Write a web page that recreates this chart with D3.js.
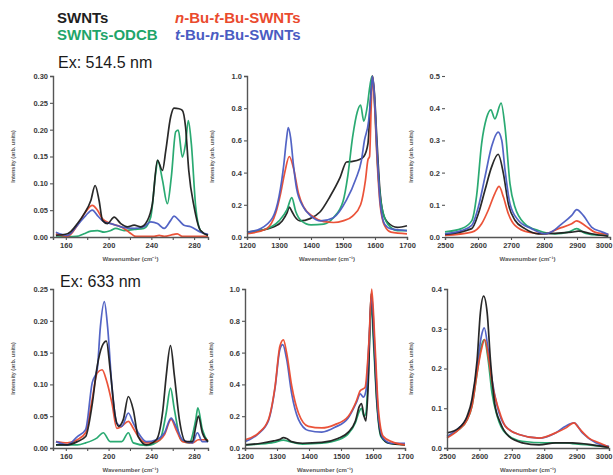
<!DOCTYPE html>
<html><head><meta charset="utf-8">
<script src="https://cdn.jsdelivr.net/npm/d3@7"></script>
<style>
body{margin:0;background:#fff;}
svg{display:block;font-family:"Liberation Sans",Arial,sans-serif;}
</style>
</head><body><svg id="c" width="613" height="475"></svg>
<script>
// ---------- series ----------
const seriesNames = ["SWNTs", "SWNTs-ODCB", "n-Bu-t-Bu-SWNTs", "t-Bu-n-Bu-SWNTs"];
const excitations = ["Ex: 514.5 nm", "Ex: 633 nm"];
const xTitle = "Wavenumber (cm\u207B\u00B9)";
const yTitle = "Intensity (arb. units)";

// ---------- 514.5 nm, RBM ----------
const rbm514_SWNTs = [[150.7,0.003],[161.6,0.006],[170.9,0.025],[177.1,0.043],[183.4,0.068],[187.4,0.096],[191.1,0.068],[194.3,0.031],[199,0.025],[205.2,0.037],[211.4,0.025],[217.7,0.019],[223.9,0.022],[230.1,0.019],[236.4,0.031],[241,0.062],[245.7,0.143],[250.4,0.124],[253.5,0.161],[258.1,0.224],[261.2,0.24],[265.9,0.239],[269,0.236],[272,0.205],[275,0.124],[280,0.056],[286,0.012],[293,0.003]];
const rbm514_ODCB = [[150.7,0],[170,0.001],[177,0.006],[183.4,0.011],[189.6,0.012],[195.8,0.009],[202,0.012],[206.7,0.016],[214.5,0.012],[224,0.014],[233,0.016],[239.4,0.037],[244,0.118],[246,0.143],[250.4,0.106],[255,0.062],[258.7,0.112],[262.8,0.196],[265.2,0.199],[269,0.149],[272,0.174],[274.6,0.217],[277.4,0.174],[281.5,0.056],[286,0.012],[293,0.003]];
const rbm514_nBu = [[150.7,0.006],[161.6,0.001],[170.9,0.022],[178.6,0.047],[184.8,0.059],[189.6,0.05],[194.3,0.034],[202,0.025],[211.4,0.019],[219.2,0.009],[225.4,0.001],[242.6,0.001],[247.3,0.003],[252,0.001],[261.2,0.005],[264.3,0.006],[269,0.001],[293,0.001]];
const rbm514_tBu = [[150.7,0.009],[161.6,0.003],[170.9,0.022],[178.6,0.04],[184.8,0.05],[189.6,0.04],[195.8,0.028],[202,0.025],[211.4,0.019],[224,0.016],[233,0.019],[239.4,0.028],[245.7,0.025],[252,0.016],[258.1,0.031],[261.2,0.039],[265.9,0.031],[270.5,0.022],[276.8,0.019],[286,0.009],[293,0.005]];

// ---------- 514.5 nm, D/G ----------
const g514_SWNTs = [[1200,0.03],[1240,0.04],[1280,0.06],[1310,0.1],[1325,0.15],[1332,0.185],[1340,0.16],[1350,0.125],[1366,0.1],[1397,0.114],[1428,0.155],[1459,0.25],[1491,0.37],[1511,0.466],[1530,0.47],[1550,0.48],[1565,0.5],[1578,0.58],[1586,0.85],[1592,1.0],[1598,0.9],[1606,0.6],[1615,0.3],[1625,0.15],[1640,0.09],[1670,0.06],[1700,0.07]];
const g514_ODCB = [[1200,0.03],[1260,0.05],[1300,0.1],[1325,0.17],[1340,0.245],[1352,0.16],[1370,0.1],[1400,0.075],[1440,0.08],[1470,0.12],[1500,0.22],[1515,0.38],[1530,0.62],[1545,0.78],[1555,0.82],[1565,0.72],[1575,0.8],[1585,0.95],[1591,1.0],[1598,0.85],[1608,0.45],[1620,0.2],[1640,0.08],[1670,0.04],[1700,0.04]];
const g514_nBu = [[1200,0.02],[1260,0.05],[1290,0.15],[1305,0.27],[1319,0.41],[1332,0.5],[1345,0.43],[1361,0.27],[1376,0.19],[1408,0.125],[1440,0.095],[1470,0.09],[1500,0.1],[1530,0.13],[1555,0.2],[1570,0.35],[1578,0.48],[1583,0.5],[1588,0.8],[1592,1.0],[1598,0.85],[1606,0.5],[1616,0.2],[1630,0.07],[1650,0.03],[1700,0.02]];
const g514_tBu = [[1200,0.03],[1240,0.05],[1280,0.12],[1300,0.25],[1315,0.45],[1323,0.6],[1329,0.68],[1336,0.62],[1345,0.45],[1355,0.3],[1375,0.19],[1400,0.13],[1430,0.1],[1470,0.12],[1511,0.23],[1540,0.36],[1557,0.47],[1567,0.6],[1580,0.72],[1588,0.9],[1592,1.0],[1598,0.88],[1606,0.55],[1616,0.22],[1630,0.08],[1650,0.05],[1700,0.04]];

// ---------- 514.5 nm, 2D ----------
const d514_SWNTs = [[2500,0.008],[2581,0.026],[2601,0.072],[2621,0.145],[2641,0.217],[2661,0.257],[2677,0.197],[2692,0.103],[2712,0.052],[2742,0.026],[2783,0.01],[2884,0.015],[2904,0.018],[2944,0.01],[2995,0.002]];
const d514_ODCB = [[2500,0.016],[2550,0.026],[2581,0.05],[2596,0.13],[2611,0.29],[2626,0.37],[2639,0.395],[2651,0.367],[2670,0.416],[2682,0.34],[2697,0.165],[2712,0.093],[2742,0.041],[2783,0.02],[2833,0.01],[2874,0.015],[2899,0.026],[2924,0.012],[2965,0.006],[2995,0.006]];
const d514_nBu = [[2500,0.005],[2581,0.015],[2611,0.041],[2631,0.083],[2651,0.135],[2664,0.157],[2677,0.124],[2692,0.072],[2712,0.036],[2753,0.015],[2803,0.01],[2844,0.026],[2884,0.041],[2899,0.05],[2924,0.036],[2954,0.015],[2995,0.008]];
const d514_tBu = [[2500,0.01],[2550,0.02],[2581,0.036],[2601,0.093],[2621,0.186],[2641,0.28],[2661,0.326],[2672,0.3],[2682,0.207],[2697,0.103],[2722,0.052],[2762,0.026],[2803,0.01],[2823,0.016],[2854,0.041],[2884,0.067],[2899,0.085],[2919,0.067],[2944,0.031],[2975,0.016],[2995,0.008]];

// ---------- 633 nm, RBM ----------
const rbm633_SWNTs = [[150.8,0.005],[161.5,0.005],[170.8,0.01],[178.5,0.018],[184.6,0.068],[189.3,0.128],[193.9,0.16],[197.9,0.168],[201.5,0.123],[206.2,0.05],[209.2,0.034],[213.8,0.045],[218.5,0.081],[223.1,0.06],[227.7,0.018],[235.4,0.005],[244.7,0.013],[250.8,0.06],[253.9,0.113],[257.9,0.161],[261.6,0.113],[266.2,0.045],[272.3,0.01],[278.5,0.01],[281.6,0.034],[284,0.05],[287.7,0.024],[293,0.01]];
const rbm633_ODCB = [[150.8,0.005],[161.5,0.005],[170.8,0.005],[178.5,0.008],[189.3,0.016],[195,0.024],[201.5,0.01],[212.3,0.01],[218.5,0.024],[223.1,0.008],[235.4,0.004],[248,0.013],[253.9,0.055],[257.9,0.094],[261.6,0.06],[267.7,0.013],[275.4,0.008],[281.6,0.045],[283.5,0.063],[287.7,0.029],[293,0.01]];
const rbm633_nBu = [[150.8,0.01],[161.5,0.008],[170.8,0.013],[178.5,0.024],[184.6,0.076],[189.3,0.118],[193.9,0.123],[197.9,0.107],[203.1,0.071],[207.7,0.031],[212.3,0.034],[218.5,0.042],[223.1,0.031],[227.7,0.018],[235.4,0.008],[244.7,0.01],[252.3,0.021],[258.5,0.045],[263.1,0.029],[269.2,0.01],[278.5,0.008],[284,0.013],[293,0.013]];
const rbm633_tBu = [[150.8,0.01],[161.5,0.005],[170.8,0.018],[178.5,0.029],[184.6,0.102],[189.3,0.123],[192.3,0.19],[196,0.23],[199.1,0.19],[203.1,0.097],[207.7,0.039],[212.3,0.034],[218.5,0.055],[223.1,0.039],[227.7,0.024],[235.4,0.01],[244.7,0.013],[252.3,0.024],[258.5,0.047],[263.1,0.034],[269.2,0.013],[278.5,0.008],[283.1,0.024],[287.7,0.01],[293,0.01]];

// ---------- 633 nm, D/G ----------
const g633_SWNTs = [[1200,0.02],[1250,0.03],[1290,0.045],[1310,0.055],[1320,0.065],[1330,0.06],[1345,0.04],[1380,0.03],[1440,0.035],[1490,0.06],[1523,0.1],[1545,0.17],[1557,0.26],[1564,0.28],[1572,0.2],[1578,0.17],[1586,0.45],[1594,0.97],[1602,0.7],[1612,0.3],[1625,0.08],[1650,0.03],[1700,0.02]];
const g633_ODCB = [[1200,0.02],[1250,0.025],[1290,0.035],[1320,0.05],[1340,0.04],[1380,0.025],[1440,0.03],[1490,0.05],[1523,0.09],[1545,0.16],[1557,0.23],[1564,0.25],[1572,0.2],[1578,0.22],[1586,0.5],[1594,0.9],[1602,0.65],[1612,0.28],[1625,0.07],[1650,0.03],[1700,0.02]];
const g633_nBu = [[1200,0.052],[1242,0.094],[1273,0.178],[1294,0.388],[1309,0.64],[1320,0.68],[1330,0.6],[1346,0.39],[1367,0.22],[1398,0.136],[1440,0.126],[1481,0.147],[1523,0.2],[1549,0.3],[1560,0.36],[1567,0.37],[1575,0.38],[1587,0.66],[1596,1.0],[1606,0.66],[1617,0.24],[1632,0.073],[1658,0.04],[1700,0.02]];
const g633_tBu = [[1200,0.04],[1242,0.09],[1273,0.17],[1294,0.38],[1309,0.62],[1318,0.65],[1330,0.56],[1346,0.34],[1367,0.18],[1398,0.11],[1440,0.1],[1481,0.13],[1523,0.19],[1549,0.29],[1560,0.34],[1570,0.32],[1578,0.36],[1587,0.65],[1596,0.96],[1606,0.6],[1617,0.2],[1632,0.06],[1658,0.03],[1700,0.03]];

// ---------- 633 nm, 2D ----------
const d633_SWNTs = [[2500,0.038],[2536,0.05],[2562,0.08],[2577,0.122],[2593,0.222],[2603,0.34],[2613,0.382],[2624,0.34],[2634,0.222],[2647,0.113],[2665,0.063],[2691,0.029],[2732,0.013],[2784,0.008],[2835,0.013],[2887,0.013],[2948,0.008],[3000,0.001]];
const d633_ODCB = [[2500,0.029],[2536,0.046],[2562,0.071],[2577,0.105],[2593,0.189],[2606,0.256],[2615,0.273],[2627,0.222],[2639,0.138],[2655,0.08],[2680,0.038],[2732,0.017],[2804,0.013],[2866,0.013],[2887,0.011],[2938,0.008],[3000,0.002]];
const d633_nBu = [[2500,0.025],[2536,0.046],[2562,0.071],[2577,0.105],[2593,0.189],[2606,0.247],[2616.5,0.273],[2629,0.222],[2641,0.155],[2660,0.096],[2680,0.055],[2722,0.034],[2784,0.025],[2835,0.038],[2866,0.05],[2892,0.063],[2907,0.05],[2938,0.025],[2969,0.013],[3000,0.002]];
const d633_tBu = [[2500,0.029],[2536,0.05],[2562,0.075],[2577,0.113],[2593,0.205],[2606,0.281],[2615,0.302],[2627,0.247],[2639,0.172],[2655,0.105],[2680,0.055],[2722,0.034],[2784,0.025],[2835,0.038],[2866,0.055],[2892,0.063],[2918,0.038],[2959,0.013],[3000,0.004]];

// ---------- axis ticks ----------
const rbmXTicks = [160, 180, 200, 220, 240, 260, 280];
const rbmXLabels = [160, 200, 240, 280];
const gXTicks = [1200, 1300, 1400, 1500, 1600, 1700];
const dXTicks = [2500, 2600, 2700, 2800, 2900, 3000];
const yTicks514rbm = [0, 0.05, 0.10, 0.15, 0.20, 0.25, 0.30];
const yTicksG = [0, 0.2, 0.4, 0.6, 0.8, 1.0];
const yTicks514d = [0, 0.1, 0.2, 0.3, 0.4, 0.5];
const yTicks633rbm = [0, 0.05, 0.10, 0.15, 0.20, 0.25];
const yTicks633d = [0, 0.1, 0.2, 0.3, 0.4];

// ---------- styles ----------
const colors = {"SWNTs":"#1e1e1e","SWNTs-ODCB":"#1fa56a","n-Bu-t-Bu-SWNTs":"#ea4a2e","t-Bu-n-Bu-SWNTs":"#4a5cc2"};
const axisColor = "#555";
const W = 613;

const svg = d3.select("#c");

const panels = [
  {x0:53, x1:208, y0:237, y1:76, xd:[148,293], yd:[0,0.30], xt:rbmXTicks, xl:rbmXLabels, yt:yTicks514rbm, fmt:".2f", yDomainLine:true,
   data:[rbm514_ODCB, rbm514_nBu, rbm514_tBu, rbm514_SWNTs], order:[1,2,3,0], yTitleX:15},
  {x0:247, x1:407, y0:237, y1:76, xd:[1200,1700], yd:[0,1.0], xt:gXTicks, xl:gXTicks, yt:yTicksG, fmt:".1f", yDomainLine:true,
   data:[g514_SWNTs, g514_ODCB, g514_nBu, g514_tBu], order:[0,1,2,3], yTitleX:214},
  {x0:445, x1:610, y0:237, y1:76, xd:[2500,3000], yd:[0,0.5], xt:dXTicks, xl:dXTicks, yt:yTicks514d, fmt:".1f", yDomainLine:false,
   data:[d514_ODCB, d514_nBu, d514_SWNTs, d514_tBu], order:[1,2,0,3], yTitleX:413},
  {x0:53, x1:208, y0:448, y1:289, xd:[148,293], yd:[0,0.25], xt:rbmXTicks, xl:rbmXLabels, yt:yTicks633rbm, fmt:".2f", yDomainLine:true,
   data:[rbm633_ODCB, rbm633_nBu, rbm633_tBu, rbm633_SWNTs], order:[1,2,3,0], yTitleX:15},
  {x0:245, x1:405, y0:448, y1:289, xd:[1200,1700], yd:[0,1.0], xt:gXTicks, xl:gXTicks, yt:yTicksG, fmt:".1f", yDomainLine:true,
   data:[g633_ODCB, g633_SWNTs, g633_tBu, g633_nBu], order:[1,0,3,2], yTitleX:213},
  {x0:447, x1:609, y0:448, y1:289, xd:[2500,3000], yd:[0,0.4], xt:dXTicks, xl:dXTicks, yt:yTicks633d, fmt:".1f", yDomainLine:true,
   data:[d633_ODCB, d633_tBu, d633_nBu, d633_SWNTs], order:[1,3,2,0], yTitleX:413}
];

panels.forEach(p => {
  const x = d3.scaleLinear().domain(p.xd).range([p.x0, p.x1]);
  const y = d3.scaleLinear().domain(p.yd).range([p.y0, p.y1]);
  const g = svg.append("g");

  const line = d3.line().x(d => x(d[0])).y(d => y(d[1])).curve(d3.curveMonotoneX);
  p.data.forEach((arr, i) => {
    const name = seriesNames[p.order[i]];
    g.append("path").datum(arr)
      .attr("d", line)
      .attr("fill", "none")
      .attr("stroke", colors[name])
      .attr("stroke-width", 1.7)
      .attr("stroke-linejoin", "round")
      .attr("opacity", 0.95);
  });

  const xa = g.append("g").attr("transform", `translate(0,${p.y0})`)
    .call(d3.axisBottom(x).tickValues(p.xt).tickSize(3).tickPadding(3)
      .tickFormat(v => p.xl.includes(v) ? String(v) : ""));
  const ya = g.append("g").attr("transform", `translate(${p.x0},0)`)
    .call(d3.axisLeft(y).tickValues(p.yt).tickSize(3).tickPadding(2).tickFormat(d3.format(p.fmt)));
  if (!p.yDomainLine) ya.select(".domain").remove();
  [xa, ya].forEach(a => {
    a.select(".domain").attr("stroke", axisColor).attr("stroke-width", 1.4);
    a.selectAll(".tick line").attr("stroke", axisColor).attr("stroke-width", 1.1);
    a.selectAll(".tick text").attr("fill", "#3a3a3a").attr("font-size", "7.5px")
      .attr("font-weight", "bold").attr("font-family", '"Liberation Sans", Arial, sans-serif');
  });
  // keep the right-most x label inside the picture
  xa.selectAll(".tick").each(function(v) {
    if (x(v) + 9 > W) d3.select(this).select("text").attr("text-anchor", "end").attr("x", W - 1 - x(v));
  });

  g.append("text").attr("x", (p.x0 + p.x1) / 2).attr("y", p.y0 + 24)
    .attr("text-anchor", "middle").attr("font-size", "6px").attr("fill", "#555").attr("font-weight", "bold")
    .text(xTitle);
  g.append("text").attr("transform", `translate(${p.yTitleX},${(p.y0 + p.y1) / 2}) rotate(-90)`)
    .attr("text-anchor", "middle").attr("font-size", "5.5px").attr("fill", "#555").attr("font-weight", "bold")
    .text(yTitle);
});

// ---------- legend ----------
const legendPos = [[57, 23], [57, 40], [175, 23], [175, 40]];
seriesNames.forEach((n, i) => {
  const t = svg.append("text").attr("x", legendPos[i][0]).attr("y", legendPos[i][1])
    .attr("font-size", "15px").attr("font-weight", "bold").attr("fill", colors[n]);
  if (n.includes("-Bu-")) {
    const parts = n.split("-");  // e.g. n,Bu,t,Bu,SWNTs
    t.append("tspan").attr("font-style", "italic").text(parts[0]);
    t.append("tspan").text("-" + parts[1] + "-");
    t.append("tspan").attr("font-style", "italic").text(parts[2]);
    t.append("tspan").text("-" + parts[3] + "-" + parts[4]);
  } else {
    t.text(n);
  }
});
svg.append("text").attr("x", 58).attr("y", 68).attr("font-size", "16px").attr("fill", "#1a1a1a").text(excitations[0]);
svg.append("text").attr("x", 60).attr("y", 287).attr("font-size", "16px").attr("fill", "#1a1a1a").text(excitations[1]);
</script>
</body></html>
